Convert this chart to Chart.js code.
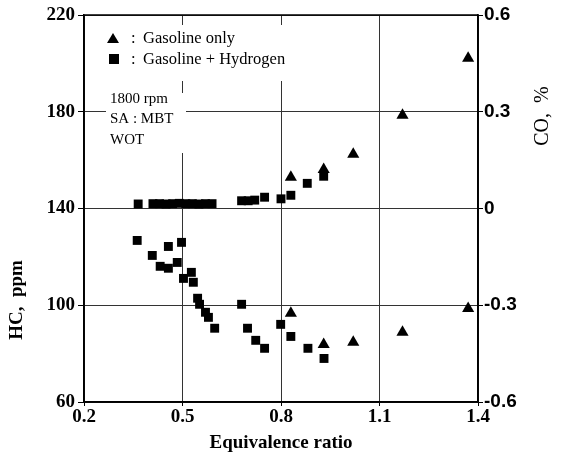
<!DOCTYPE html>
<html>
<head>
<meta charset="utf-8">
<script src="https://cdn.jsdelivr.net/npm/chart.js@4.4.1/dist/chart.umd.min.js"></script>
<style>
  body { margin: 0; background: #fff; }
  #wrap { width: 562px; height: 459px; }
</style>
</head>
<body>
<div id="wrap"><canvas id="chart"></canvas></div>
<script>
// Axis ticks
const xTicks = [0.2, 0.5, 0.8, 1.1, 1.4];
const hcTicks = [60, 100, 140, 180, 220];
const coTicks = [-0.6, -0.3, 0, 0.3, 0.6];

// HC (ppm), gasoline only
const phiHcGas = [0.83, 0.93, 1.02, 1.17, 1.37];
const hcGas = [96.7, 83.8, 84.7, 88.8, 98.7];

// HC (ppm), gasoline + hydrogen
const phiHcH2 = [0.362, 0.408, 0.432, 0.457, 0.457, 0.484, 0.497, 0.503, 0.527, 0.533, 0.546, 0.552,
                 0.570, 0.579, 0.598, 0.680, 0.698, 0.723, 0.750, 0.799, 0.830, 0.882, 0.931];
const hcH2 = [126.8, 120.6, 116.1, 124.3, 115.3, 117.7, 126.0, 111.1, 113.6, 109.5, 102.9, 100.4,
              97.1, 95.0, 90.5, 100.4, 90.5, 85.5, 82.2, 92.1, 87.1, 82.2, 78.0];

// CO (%), gasoline only
const phiCoGas = [0.83, 0.93, 1.02, 1.17, 1.37];
const coGas = [0.097, 0.121, 0.168, 0.289, 0.466];

// CO (%), gasoline + hydrogen
const phiCoH2 = [0.365, 0.41, 0.43, 0.45, 0.47, 0.49, 0.51, 0.53, 0.55, 0.57, 0.59,
                 0.68, 0.70, 0.72, 0.75, 0.80, 0.83, 0.88, 0.93];
const coH2 = [0.014, 0.015, 0.015, 0.014, 0.015, 0.016, 0.015, 0.015, 0.014, 0.015, 0.015,
              0.024, 0.024, 0.026, 0.035, 0.030, 0.041, 0.078, 0.100];

const toPoints = (xs, ys) => xs.map((x, i) => ({ x: x, y: ys[i] }));

const serif = "'Liberation Serif', 'DejaVu Serif', serif";
const sans = "'Liberation Sans', Arial, sans-serif";

const triStyle = { pointStyle: 'triangle', pointRadius: 7, backgroundColor: '#000', borderColor: '#000', borderWidth: 0 };
const sqStyle = { pointStyle: 'rect', pointRadius: 6.3, backgroundColor: '#000', borderColor: '#000', borderWidth: 0 };

// draws a marker for the legend lines
function marker(ctx, style, x, y) {
    ctx.fillStyle = '#000';
    ctx.beginPath();
    if (style === 'triangle') {
        ctx.moveTo(x, y - 6);
        ctx.lineTo(x + 6, y + 4);
        ctx.lineTo(x - 6, y + 4);
    } else {
        ctx.rect(x - 5, y - 5, 10, 10);
    }
    ctx.closePath();
    ctx.fill();
}

// white background, labels inside the plot, frame and side titles
const decor = {
    id: 'decor',
    beforeDraw(chart) {
        const ctx = chart.ctx;
        ctx.save();
        ctx.fillStyle = '#fff';
        ctx.fillRect(0, 0, chart.width, chart.height);
        ctx.restore();
    },
    beforeDatasetsDraw(chart) {
        const ctx = chart.ctx;
        const a = chart.chartArea;
        ctx.save();
        ctx.fillStyle = '#fff';
        ctx.fillRect(a.left + 16, a.top + 10, 200, 56);
        ctx.fillRect(a.left + 22, a.top + 78, 80, 60);

        marker(ctx, 'triangle', a.left + 29, a.top + 24);
        marker(ctx, 'rect', a.left + 30, a.top + 44);

        ctx.fillStyle = '#000';
        ctx.textBaseline = 'alphabetic';
        ctx.font = '16.5px ' + serif;
        ctx.fillText(':', a.left + 47, a.top + 28);
        ctx.fillText('Gasoline only', a.left + 59, a.top + 28);
        ctx.fillText(':', a.left + 47, a.top + 49);
        ctx.fillText('Gasoline + Hydrogen', a.left + 59, a.top + 49);

        ctx.font = '15px ' + serif;
        ctx.fillText('1800 rpm', a.left + 26, a.top + 88);
        ctx.fillText('SA : MBT', a.left + 26, a.top + 108);
        ctx.fillText('WOT', a.left + 26, a.top + 129);
        ctx.restore();
    },
    afterDraw(chart) {
        const ctx = chart.ctx;
        const a = chart.chartArea;
        ctx.save();
        ctx.strokeStyle = '#000';
        ctx.lineWidth = 1.5;
        ctx.strokeRect(a.left, a.top, a.right - a.left, a.bottom - a.top);

        ctx.fillStyle = '#000';
        ctx.textAlign = 'center';
        ctx.textBaseline = 'middle';

        ctx.translate(17, 300);
        ctx.rotate(-Math.PI / 2);
        ctx.font = 'bold 19px ' + serif;
        ctx.fillText('HC,  ppm', 0, 0);
        ctx.restore();

        ctx.save();
        ctx.fillStyle = '#000';
        ctx.textAlign = 'center';
        ctx.textBaseline = 'middle';
        ctx.translate(543, 116);
        ctx.rotate(-Math.PI / 2);
        ctx.font = '20px ' + serif;
        ctx.fillText('CO,  %', 0, 0);
        ctx.restore();
    }
};

const fmt = v => String(Math.round(v * 10) / 10);

// dotted grid inside the frame, solid tick marks outside it
const dotted = { color: '#333', lineWidth: 1, borderDash: [1.5, 1.5], tickColor: '#000', tickBorderDash: [] };

new Chart(document.getElementById('chart'), {
    type: 'scatter',
    data: {
        datasets: [
            { label: 'HC gasoline only', data: toPoints(phiHcGas, hcGas), yAxisID: 'y', ...triStyle },
            { label: 'HC gasoline + hydrogen', data: toPoints(phiHcH2, hcH2), yAxisID: 'y', ...sqStyle },
            { label: 'CO gasoline only', data: toPoints(phiCoGas, coGas), yAxisID: 'y2', ...triStyle },
            { label: 'CO gasoline + hydrogen', data: toPoints(phiCoH2, coH2), yAxisID: 'y2', ...sqStyle }
        ]
    },
    options: {
        responsive: true,
        maintainAspectRatio: false,
        animation: false,
        layout: { padding: { top: 15, left: 0, right: 0, bottom: 0 } },
        plugins: {
            legend: { display: false },
            tooltip: { enabled: false }
        },
        scales: {
            x: {
                type: 'linear',
                min: 0.2,
                max: 1.4,
                afterBuildTicks: s => { s.ticks = xTicks.map(v => ({ value: v })); },
                afterFit: s => { s.height = 57; },
                grid: { ...dotted, tickLength: 4 },
                border: { display: true, color: '#000', width: 1.5 },
                ticks: { color: '#000', padding: 0, maxRotation: 0, font: { family: serif, size: 19, weight: 'bold' }, callback: fmt },
                title: { display: true, text: 'Equivalence ratio', color: '#000', font: { family: serif, size: 19, weight: 'bold' }, padding: { top: 0, bottom: 5 } }
            },
            y: {
                type: 'linear',
                position: 'left',
                min: 60,
                max: 220,
                afterBuildTicks: s => { s.ticks = hcTicks.map(v => ({ value: v })); },
                afterFit: s => { s.width = 84; },
                grid: { ...dotted, tickLength: 6 },
                border: { display: true, color: '#000', width: 1.5 },
                ticks: { color: '#000', padding: 3, font: { family: serif, size: 19, weight: 'bold' }, callback: fmt }
            },
            y2: {
                type: 'linear',
                position: 'right',
                min: -0.6,
                max: 0.6,
                afterBuildTicks: s => { s.ticks = coTicks.map(v => ({ value: v })); },
                afterFit: s => { s.width = 84; },
                grid: { drawOnChartArea: false, tickLength: 5, tickColor: '#000' },
                border: { display: true, color: '#000', width: 1.5 },
                ticks: { color: '#000', padding: 1, font: { family: sans, size: 19, weight: 'bold' }, callback: fmt }
            }
        }
    },
    plugins: [decor]
});
</script>
</body>
</html>
